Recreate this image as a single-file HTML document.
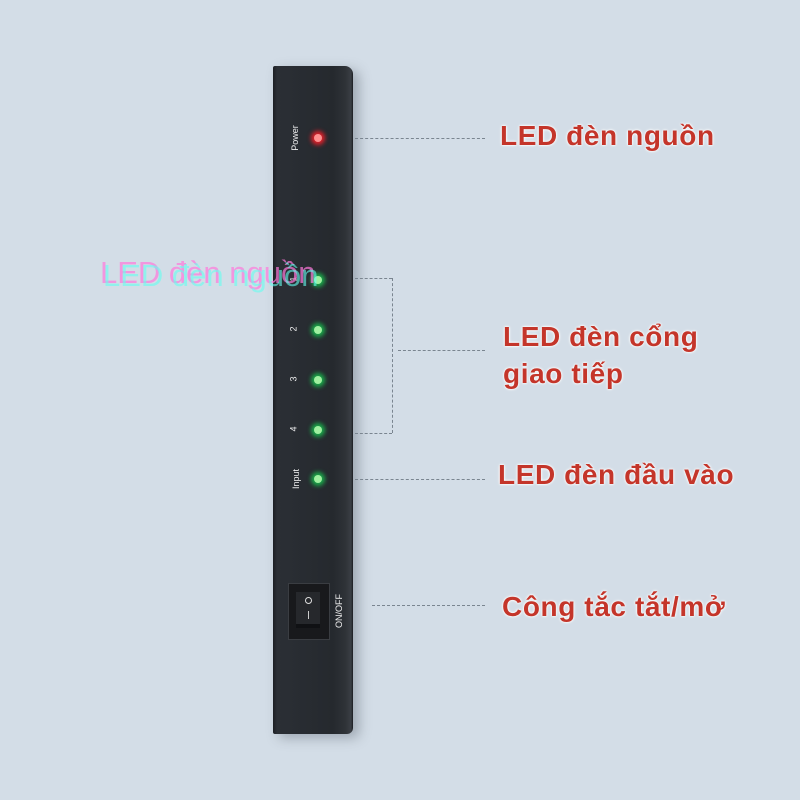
<!DOCTYPE html><html><head><meta charset="utf-8"><style>
body{margin:0;width:800px;height:800px;background:#d3dde7;position:relative;overflow:hidden;font-family:"Liberation Sans",sans-serif}
.dev{position:absolute;left:273px;top:66px;width:80px;height:668px;background:linear-gradient(90deg,#1c1f24 0,#2b2f35 4px,#25292e 60px,#2e3237 72px,#3a3e44 78px,#1a1c20 80px);border-radius:2px 8px 6px 2px;box-shadow:6px 4px 12px rgba(60,70,80,.35)}
.led{position:absolute;width:8px;height:8px;border-radius:50%;left:314px}
.g{background:#9ff0a0;box-shadow:0 0 4px 3px #1aa94a}
.r{background:#ff9090;box-shadow:0 0 4px 3px #e0202a}
.t{position:absolute;color:#eee;font-size:9px;transform:rotate(-90deg);transform-origin:center;white-space:nowrap}
.l{position:absolute;border-top:1px dashed #7a8590;height:0}
.v{position:absolute;border-left:1px dashed #7a8590;width:0}
.lab{position:absolute;color:#c4352a;font-size:28px;letter-spacing:0.6px;font-weight:bold;text-shadow:0 0 3px #fff,0 0 2px #fff,0 0 1px #fff;line-height:37px;white-space:nowrap}
.gl{position:absolute;font-size:31px;left:100px;top:255px;white-space:nowrap}
</style></head><body>
<div class="dev"></div>
<div class="t" style="left:282px;top:133px">Power</div>
<div class="t" style="left:291px;top:274px">1</div>
<div class="t" style="left:291px;top:324px">2</div>
<div class="t" style="left:291px;top:374px">3</div>
<div class="t" style="left:291px;top:424px">4</div>
<div class="t" style="left:286px;top:474px">Input</div>
<div class="led r" style="top:134px"></div>
<div class="led g" style="top:276px"></div>
<div class="led g" style="top:326px"></div>
<div class="led g" style="top:376px"></div>
<div class="led g" style="top:426px"></div>
<div class="led g" style="top:475px"></div>
<div style="position:absolute;left:288px;top:583px;width:40px;height:55px;background:#18191c;border:1px solid #3a3d42"></div>
<div style="position:absolute;left:296px;top:592px;width:24px;height:32px;background:#26282c;border-bottom:4px solid #101114"></div>
<div style="position:absolute;left:305px;top:597px;width:5px;height:5px;border:1px solid #ddd;border-radius:50%"></div>
<div style="position:absolute;left:308px;top:611px;width:1px;height:8px;background:#ccc"></div>
<div class="t" style="left:322px;top:606px">ON/OFF</div>
<div class="l" style="left:355px;top:138px;width:130px"></div>
<div class="l" style="left:355px;top:278px;width:37px"></div>
<div class="l" style="left:355px;top:433px;width:37px"></div>
<div class="v" style="left:392px;top:278px;height:155px"></div>
<div class="l" style="left:398px;top:350px;width:87px"></div>
<div class="l" style="left:355px;top:479px;width:130px"></div>
<div class="l" style="left:372px;top:605px;width:113px"></div>
<div class="lab" style="left:500px;top:117px">LED đèn nguồn</div>
<div class="lab" style="left:503px;top:318px">LED đèn cổng<br>giao tiếp</div>
<div class="lab" style="left:498px;top:456px">LED đèn đầu vào</div>
<div class="lab" style="left:502px;top:588px">Công tắc tắt/mở</div>
<div class="gl" style="color:rgba(255,120,220,.7)">LED đèn nguồn</div>
<div class="gl" style="color:rgba(100,255,240,.6);left:103px;top:258px">LED đèn nguồn</div>
</body></html>
